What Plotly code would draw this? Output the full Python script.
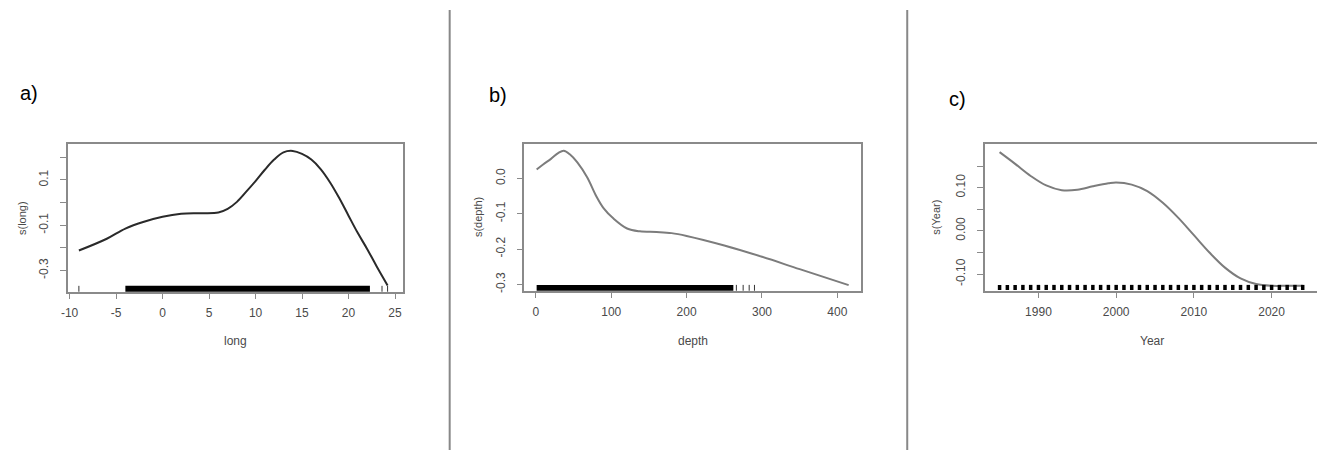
import plotly.graph_objects as go

# a) s(long)
long_x = [-9, -6, -4, -2, 0, 2, 4, 6, 7, 8, 9, 10, 11, 12, 13, 14, 15, 16, 17, 18, 19, 20, 21, 22, 23, 24.2]
long_y = [-0.212, -0.16, -0.115, -0.085, -0.063, -0.05, -0.047, -0.044, -0.028, 0.003, 0.048, 0.095,
          0.145, 0.19, 0.222, 0.228, 0.215, 0.19, 0.148, 0.09, 0.02, -0.058, -0.135, -0.205, -0.28, -0.366]
long_rug_band = [-4, 22.3]
long_rug_ticks = [-9, 23.6, 24.2]

# b) s(depth)
depth_x = [1, 10, 20, 30, 37, 45, 55, 68, 80, 90, 103, 121, 138, 160, 180, 200, 250, 300, 350, 415]
depth_y = [0.025, 0.04, 0.055, 0.072, 0.078, 0.068, 0.045, 0.003, -0.05, -0.085, -0.114, -0.142,
           -0.15, -0.152, -0.155, -0.163, -0.19, -0.222, -0.257, -0.302]
depth_rug_band = [1, 262]
depth_rug_ticks = [266, 275, 283, 290]

# c) s(Year)
year_x = [1985, 1987, 1989, 1991, 1993, 1995, 1997, 1999, 2000, 2002, 2004, 2006, 2008, 2010,
          2012, 2014, 2016, 2018, 2020, 2022, 2024]
year_y = [0.182, 0.155, 0.127, 0.105, 0.094, 0.095, 0.103, 0.11, 0.112, 0.107, 0.092, 0.065, 0.03,
          -0.01, -0.05, -0.085, -0.11, -0.123, -0.127, -0.127, -0.127]
year_rug = [1985, 1986, 1987, 1988, 1989, 1990, 1991, 1992, 1993, 1994, 1995, 1996, 1997, 1998,
            1999, 2000, 2001, 2002, 2003, 2004, 2005, 2006, 2007, 2008, 2009, 2010, 2011, 2012,
            2013, 2014, 2015, 2016, 2017, 2018, 2019, 2020, 2021, 2022, 2023, 2024]

# page body has an 8px margin, so the figure is shrunk and coordinates shifted
OFF = 8
W, H = 1325 - OFF, 457 - OFF
FONT = "Liberation Sans, Arial, sans-serif"
BOX = "#8a8a8a"
TXT = "#4a4a4a"


def px(x):
    return (x - OFF) / W


def py(y):
    return 1 - (y - OFF) / H


panels = [
    dict(x=long_x, y=long_y, color="#2a2a2a", xd=[61, 398], yd=[145, 293],
         xr=[-10.2, 25.85], yr=[-0.394, 0.257],
         xt=[-10, -5, 0, 5, 10, 15, 20, 25], xtt=["-10", "-5", "0", "5", "10", "15", "20", "25"],
         yt=[-0.3, -0.2, -0.1, 0.0, 0.1, 0.2], ytt=["-0.3", "", "-0.1", "", "0.1", ""],
         xlab="long", ylab="s(long)", tag="a)", tagx=22, tagy=93, ylx=15,
         band=long_rug_band, ticks=long_rug_ticks),
    dict(x=depth_x, y=depth_y, color="#7c7c7c", xd=[520, 859], yd=[145, 292],
         xr=[-15.4, 432], yr=[-0.318, 0.096],
         xt=[0, 100, 200, 300, 400], xtt=["0", "100", "200", "300", "400"],
         yt=[-0.3, -0.2, -0.1, 0.0], ytt=["-0.3", "-0.2", "-0.1", "0.0"],
         xlab="depth", ylab="s(depth)", tag="b)", tagx=494, tagy=95, ylx=473,
         band=depth_rug_band, ticks=depth_rug_ticks),
    dict(x=year_x, y=year_y, color="#7c7c7c", xd=[983, 1319], yd=[145, 292],
         xr=[1983.1, 2026.1], yr=[-0.1385, 0.2],
         xt=[1990, 2000, 2010, 2020], xtt=["1990", "2000", "2010", "2020"],
         yt=[-0.1, -0.05, 0.0, 0.05, 0.1, 0.15], ytt=["-0.10", "", "0.00", "", "0.10", ""],
         xlab="Year", ylab="s(Year)", tag="c)", tagx=956, tagy=99, ylx=933,
         band=None, ticks=None),
]

fig = go.Figure()
shapes = []
annotations = []

for i, p in enumerate(panels, start=1):
    xa = "x" if i == 1 else f"x{i}"
    ya = "y" if i == 1 else f"y{i}"
    fig.add_trace(go.Scatter(x=p["x"], y=p["y"], mode="lines", xaxis=xa, yaxis=ya,
                             line=dict(color=p["color"], width=2, shape="spline", smoothing=1.0),
                             showlegend=False, hoverinfo="skip"))
    axis_common = dict(showline=True, mirror=True, linecolor=BOX, linewidth=1.5,
                       ticks="outside", ticklen=6, tickcolor=BOX, tickwidth=1,
                       showgrid=False, zeroline=False, fixedrange=True,
                       tickfont=dict(family=FONT, size=12, color=TXT))
    fig.update_layout({
        ("xaxis" if i == 1 else f"xaxis{i}"): dict(
            axis_common, domain=[px(p["xd"][0]), px(p["xd"][1])], range=p["xr"],
            anchor=ya, tickvals=p["xt"], ticktext=p["xtt"], tickangle=0, ticklabelstandoff=3),
        ("yaxis" if i == 1 else f"yaxis{i}"): dict(
            axis_common, domain=[py(p["yd"][1]), py(p["yd"][0])], range=p["yr"],
            anchor=xa, tickvals=p["yt"], ticktext=p["ytt"], tickangle=-90, ticklabelstandoff=7),
    })

    # rug
    if p["band"] is not None:
        shapes.append(dict(type="rect", xref=xa, yref=f"{ya} domain",
                           x0=p["band"][0], x1=p["band"][1], y0=0, y1=0.04,
                           fillcolor="black", line=dict(width=0)))
    if p["ticks"] is not None:
        for t in p["ticks"]:
            shapes.append(dict(type="line", xref=xa, yref=f"{ya} domain",
                               x0=t, x1=t, y0=0, y1=0.04, line=dict(color="#333", width=1)))
    if i == 3:
        for t in year_rug:
            shapes.append(dict(type="line", xref=xa, yref=f"{ya} domain",
                               x0=t, x1=t, y0=0.005, y1=0.04, line=dict(color="black", width=3.5)))

    cx = (p["xd"][0] + p["xd"][1]) / 2
    cy = (p["yd"][0] + p["yd"][1]) / 2
    annotations.append(dict(text=p["xlab"], xref="paper", yref="paper", x=px(cx), y=py(342),
                            showarrow=False, xanchor="center", yanchor="middle",
                            font=dict(family=FONT, size=12, color=TXT)))
    annotations.append(dict(text=p["ylab"], xref="paper", yref="paper", x=px(p["ylx"]), y=py(cy),
                            showarrow=False, xanchor="center", yanchor="middle", textangle=-90,
                            font=dict(family=FONT, size=11, color=TXT)))
    annotations.append(dict(text=p["tag"], xref="paper", yref="paper", x=px(p["tagx"]), y=py(p["tagy"]),
                            showarrow=False, xanchor="center", yanchor="middle",
                            font=dict(family=FONT, size=20, color="black")))

# vertical separators
for sx in [445, 905]:
    shapes.append(dict(type="line", xref="paper", yref="paper", x0=px(sx), x1=px(sx),
                       y0=py(452), y1=py(10), line=dict(color="#888888", width=2)))

fig.update_layout(width=W, height=H, margin=dict(l=0, r=0, t=0, b=0),
                  paper_bgcolor="white", plot_bgcolor="white",
                  shapes=shapes, annotations=annotations, showlegend=False)

fig.write_html("out.html")
